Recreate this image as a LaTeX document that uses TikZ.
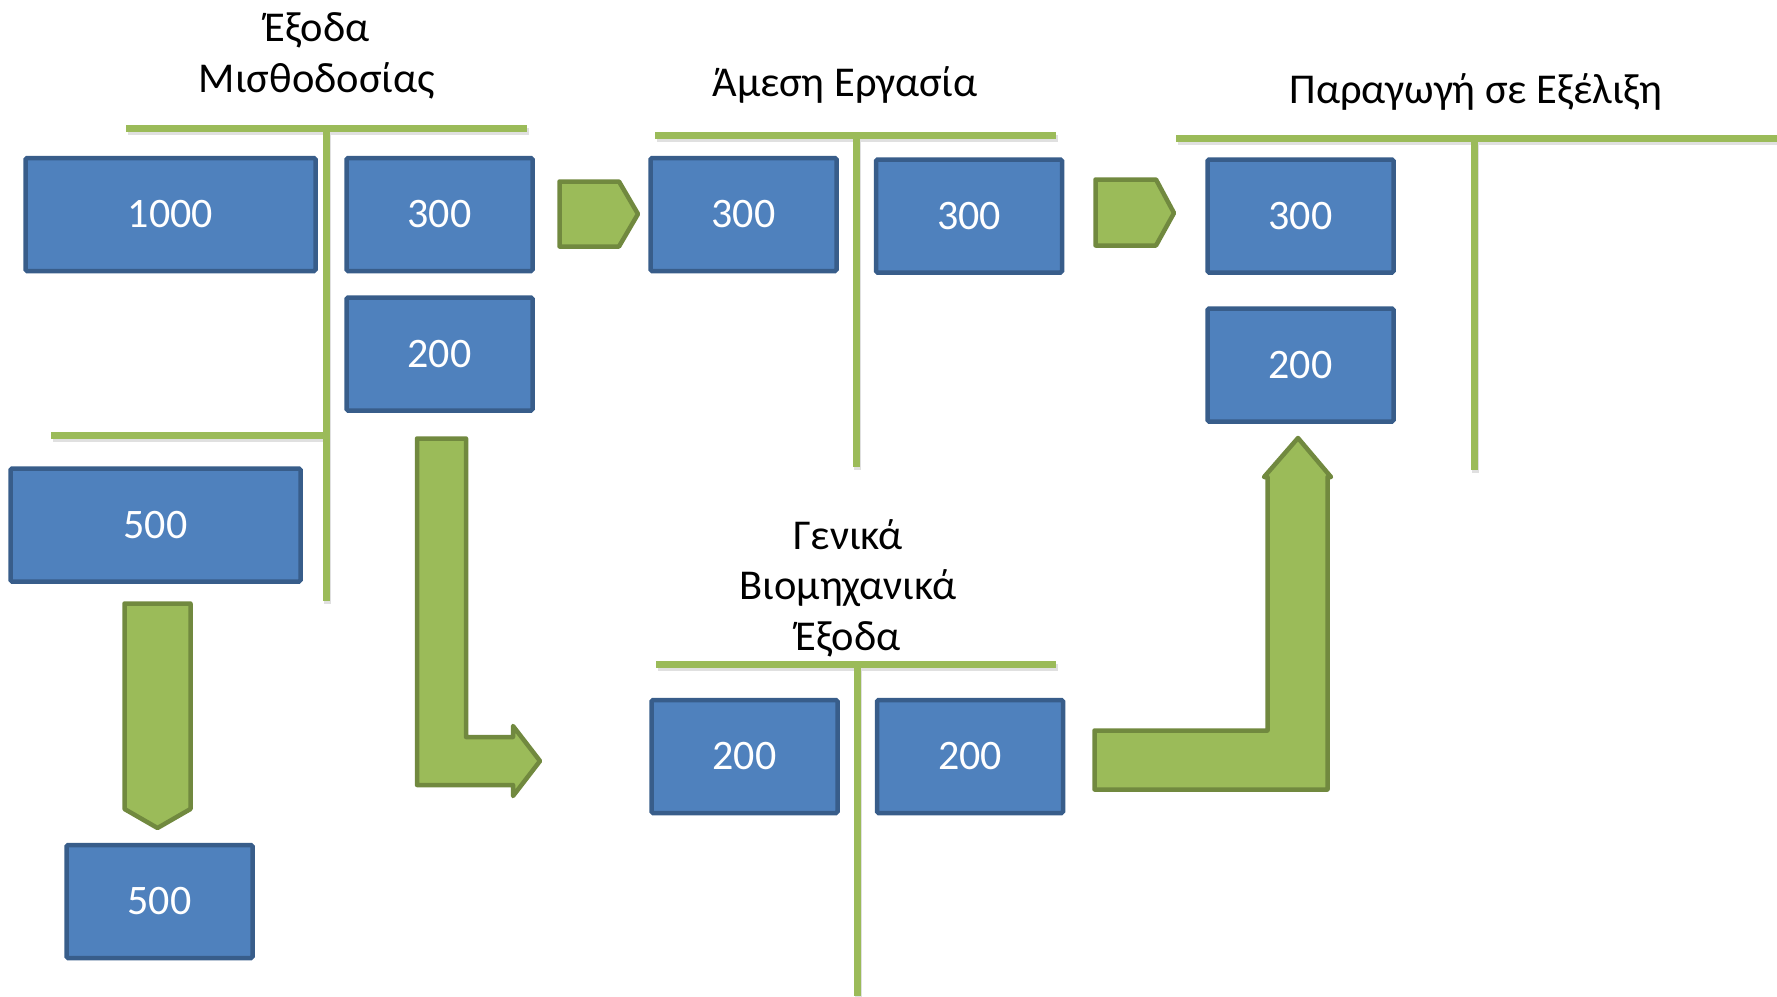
\documentclass[tikz,border=0pt]{standalone}
\usepackage{fontspec}
\setmainfont{Carlito}
\definecolor{boxfill}{HTML}{4F81BD}
\definecolor{boxline}{HTML}{385D8A}
\definecolor{gfill}{HTML}{9BBB59}
\definecolor{gline}{HTML}{71893F}
\begin{document}
\begin{tikzpicture}[x=1pt,y=-1pt]
\tikzstyle{box}=[rectangle,draw=boxline,fill=boxfill,line width=4.5pt,rounded corners=1.5pt,minimum width=186pt,minimum height=113pt,inner sep=0pt,text=white,font=\fontsize{42}{50}\selectfont]
\tikzstyle{wide box}=[box,minimum width=290pt]
\tikzstyle{tline}=[draw=gfill,line width=7pt,preaction={draw=black!12,line width=7pt,transform canvas={shift={(1.5,3)}}}]
\tikzstyle{garrow}=[draw=gline,fill=gfill,line width=4.5pt,line join=round]
\tikzstyle{annot}=[align=center,anchor=base,font=\fontsize{42.5}{50.5}\selectfont]

\useasboundingbox (0,0) rectangle (1777,996);

% Draw the T-account lines
\draw[tline] (126,128) -- (527,128) (326,128) -- (326,601) (51,435) -- (326,435);
\draw[tline] (655,135) -- (1056,135) (856,135) -- (856,467);
\draw[tline] (1176,138) -- (1777,138) (1474,138) -- (1474,470);
\draw[tline] (656,664) -- (1056,664) (857,664) -- (857,996);

% Annotate the accounts
\node[annot] (pay) at (317,92) {Έξοδα\\Μισθοδοσίας};
\node[annot] (dir) at (845,96) {Άμεση Εργασία};
\node[annot] (wip) at (1476,103) {Παραγωγή σε Εξέλιξη};
\node[annot] (ovh) at (848,650) {Γενικά\\Βιομηχανικά\\Έξοδα};

% Draw the amount boxes
\node[wide box] (Pay-1) at (170.5,214.5) {1000};
\node[wide box] (Pay-4) at (155.5,525) {500};
\foreach \name / \x / \y / \val in {Pay-2/439.5/214.5/300, Pay-3/439.5/354/200,
    Res-1/159.5/901.5/500, Dir-1/743.5/214.5/300, Dir-2/969/216/300,
    Wip-1/1300.5/216/300, Wip-2/1300.5/365/200,
    Ovh-1/744.5/756.5/200, Ovh-2/970/756.5/200}
  \node[box] (\name) at (\x,\y) {\val};

% Draw the block arrows
\draw[garrow] (559.5,181.5) -- (619,181.5) -- (638,214) -- (619,246.5) -- (559.5,246.5) -- cycle;
\draw[garrow] (1095.5,179.5) -- (1156,179.5) -- (1174,213) -- (1156,245.5) -- (1095.5,245.5) -- cycle;
\draw[garrow] (124.5,603.5) -- (190.5,603.5) -- (190.5,809) -- (157.5,828) -- (124.5,809) -- cycle;
\draw[garrow] (417,438.5) -- (466,438.5) -- (466,737) -- (513,737) -- (513,726) -- (540,761)
  -- (513,796) -- (513,785) -- (417,785) -- cycle;
\draw[garrow] (1094.5,730.5) -- (1267.5,730.5) -- (1267.5,477) -- (1264,477) -- (1298,438)
  -- (1331,477) -- (1327.5,477) -- (1327.5,789.5) -- (1094.5,789.5) -- cycle;

\end{tikzpicture}
\end{document}
